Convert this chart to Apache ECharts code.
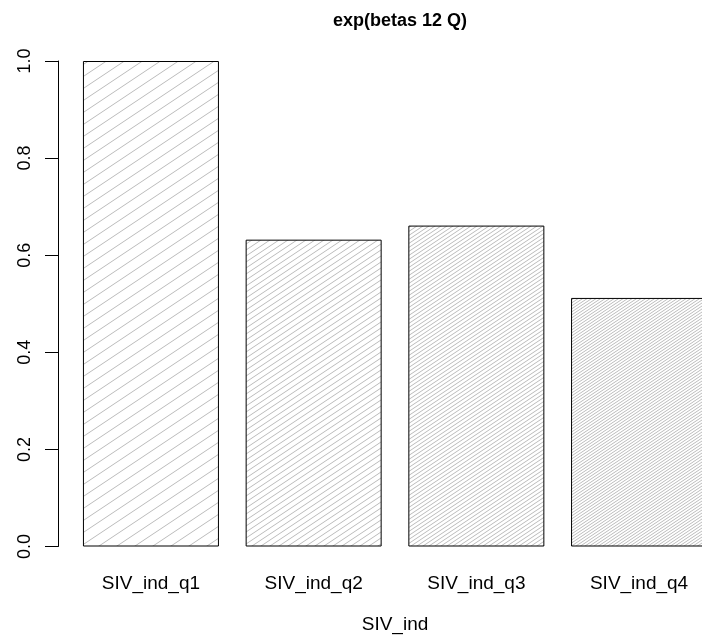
<!DOCTYPE html>
<html>
<head>
<meta charset="utf-8">
<script src="https://cdn.jsdelivr.net/npm/echarts@6/dist/echarts.min.js"></script>
<style>
html,body{margin:0;padding:0;background:#fff;}
#chart{width:702px;height:639px;}
</style>
</head>
<body>
<div id="chart"></div>
<script>
const categories = ['SIV_ind_q1', 'SIV_ind_q2', 'SIV_ind_q3', 'SIV_ind_q4'];
const values = [1.0, 0.632, 0.661, 0.512];
const hatchSpacing = [18, 9, 6, 4.5];
const titleText = 'exp(betas 12 Q)';
const xName = 'SIV_ind';

function hatch(spacing) {
  const slope = 0.66;
  const n = spacing < 5 ? 2 : 1;
  const W = Math.round(spacing * n);
  const H = Math.round(W * slope);
  const c = document.createElement('canvas');
  c.width = W; c.height = H;
  const ctx = c.getContext('2d');
  ctx.fillStyle = '#ffffff';
  ctx.fillRect(0, 0, W, H);
  ctx.strokeStyle = '#bcbcbc';
  ctx.lineWidth = 1;
  const step = W / n;
  for (let x0 = -2 * W; x0 <= 2 * W; x0 += step) {
    ctx.beginPath();
    ctx.moveTo(x0 - W, 2 * H);
    ctx.lineTo(x0 + 2 * W, -H);
    ctx.stroke();
  }
  return { image: c, repeat: 'repeat' };
}

const chart = echarts.init(document.getElementById('chart'), null, { renderer: 'canvas' });
const font = 'Liberation Sans, Arial, Helvetica, sans-serif';
chart.setOption({
  animation: false,
  backgroundColor: '#ffffff',
  title: {
    text: titleText,
    left: 395,
    top: 7,
    textAlign: 'center',
    textStyle: { fontFamily: font, fontSize: 18, fontWeight: 'bold', color: '#000' }
  },
  grid: { left: 69.6, top: 61, width: 650.8, height: 485.5, containLabel: false, outerBoundsMode: 'none' },
  xAxis: {
    type: 'category',
    data: categories,
    boundaryGap: true,
    axisLine: { show: false },
    axisTick: { show: false },
    axisLabel: { margin: 28, fontFamily: font, fontSize: 19, color: '#000' },
    name: xName,
    nameLocation: 'middle',
    nameGap: 69,
    nameTextStyle: { fontFamily: font, fontSize: 19, color: '#000' }
  },
  yAxis: {
    type: 'value',
    min: 0, max: 1, interval: 0.2,
    offset: 11.6,
    axisLine: { show: true, lineStyle: { color: '#000', width: 1 } },
    axisTick: { show: true, length: 13, inside: false, lineStyle: { color: '#000', width: 1 } },
    axisLabel: { rotate: 90, margin: 24, fontFamily: font, fontSize: 18, color: '#000',
      formatter: v => v.toFixed(1) },
    splitLine: { show: false }
  },
  series: [{
    type: 'bar',
    barWidth: 136,
    data: values.map((v, i) => ({
      value: v,
      itemStyle: { color: hatch(hatchSpacing[i]), borderColor: '#000', borderWidth: 1 }
    }))
  }]
});
</script>
</body>
</html>
